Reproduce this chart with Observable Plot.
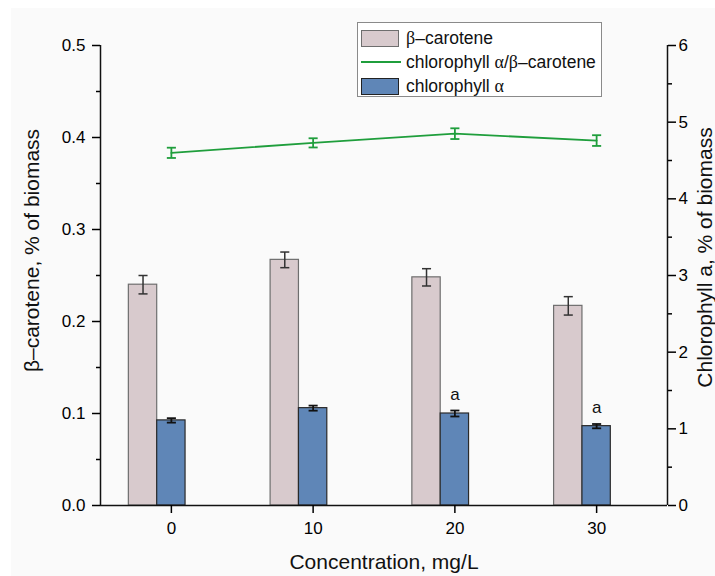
<!DOCTYPE html>
<html>
<head>
<meta charset="utf-8">
<script src="https://cdn.jsdelivr.net/npm/d3@7"></script>
<script src="https://cdn.jsdelivr.net/npm/@observablehq/plot@0.6"></script>
<style>
  html, body { margin: 0; padding: 0; background: #ffffff; }
  #wrap { position: absolute; left: 11px; top: 8px; width: 704px; height: 568px; background: #fafafa; }
  #legend {
    position: absolute; left: 346px; top: 14px; width: 243px; height: 73px;
    background: #ffffff; border: 1px solid #8a8a8a;
    font-family: "Liberation Sans", Arial, sans-serif; font-size: 17.5px; color: #111;
  }
  .row { position: absolute; left: 3px; height: 20px; display: flex; align-items: center; white-space: nowrap; }
  .sw { width: 38px; height: 17px; margin-right: 7px; box-sizing: border-box; }
  .ln { width: 40px; height: 2px; margin-right: 5px; background: #1f9e3c; }
  .gr { font-family: "Liberation Serif", "DejaVu Serif", serif; font-size: 18px; }
</style>
</head>
<body>
<div id="wrap">
  <div id="chart"></div>
  <div id="legend">
    <div class="row" style="top:5px"><div class="sw" style="background:#d8cacd;border:1.5px solid #6e6e6e"></div><span class="gr">β</span>–carotene</div>
    <div class="row" style="top:29px"><div class="ln"></div>chlorophyll&nbsp;<span class="gr">α</span>/<span class="gr">β</span>–carotene</div>
    <div class="row" style="top:53px"><div class="sw" style="background:#5f86b7;border:1.5px solid #222"></div>chlorophyll&nbsp;<span class="gr">α</span></div>
  </div>
</div>
<script>
// Concentration of the additive, mg/L
const concentrations = [0, 10, 20, 30];
// β-carotene, % of biomass (left axis), with error
const betaCarotene = [0.240, 0.267, 0.248, 0.217];
const betaCaroteneErr = [0.010, 0.0085, 0.0094, 0.010];
// Chlorophyll α, % of biomass (right axis), with error
const chlorophyll = [1.11, 1.27, 1.20, 1.035];
const chlorophyllErr = [0.029, 0.033, 0.039, 0.028];
// Chlorophyll α / β-carotene ratio (right axis), with error
const ratio = [4.60, 4.73, 4.85, 4.76];
const ratioErr = [0.067, 0.060, 0.070, 0.070];
// Significance letters above the chlorophyll bars
const significance = ["", "", "a", "a"];
// Axis ticks
const xTicks = [0, 10, 20, 30];
const leftTicks = [0, 0.1, 0.2, 0.3, 0.4, 0.5];
const leftMinor = [0.05, 0.15, 0.25, 0.35, 0.45];
const rightTicks = [0, 1, 2, 3, 4, 5, 6];
const rightMinor = [0.5, 1.5, 2.5, 3.5, 4.5, 5.5];

// right-axis values are drawn on the left scale: 6 on the right = 0.5 on the left
const k = 0.5 / 6;

const rows = concentrations.map((c, i) => ({
  c,
  beta: betaCarotene[i], betaErr: betaCaroteneErr[i],
  chl: chlorophyll[i] * k, chlErr: chlorophyllErr[i] * k,
  ratio: ratio[i] * k, ratioErr: ratioErr[i] * k,
  sig: significance[i]
}));

const capHalf = 0.32;
const font = "Liberation Sans, Arial, sans-serif";

const chart = Plot.plot({
  width: 704,
  height: 568,
  marginLeft: 89,
  marginRight: 48,
  marginTop: 37,
  marginBottom: 71,
  style: { fontFamily: font, fontSize: "17px", background: "transparent", color: "#000" },
  x: { domain: [-5, 35] },
  y: { domain: [0, 0.5] },
  marks: [
    // β-carotene bars, left of each concentration
    Plot.rectY(rows, { x1: d => d.c - 3, x2: d => d.c - 1, y1: 0, y2: "beta", fill: "#d8cacd", stroke: "#6e6e6e", strokeWidth: 1.2 }),
    // chlorophyll α bars, centred on each concentration
    Plot.rectY(rows, { x1: d => d.c - 1, x2: d => d.c + 1, y1: 0, y2: "chl", fill: "#5f86b7", stroke: "#2a2a2a", strokeWidth: 1.2 }),
    // β-carotene error bars
    Plot.link(rows, { x1: d => d.c - 2, x2: d => d.c - 2, y1: d => d.beta - d.betaErr, y2: d => d.beta + d.betaErr, stroke: "#333", strokeWidth: 1.5 }),
    Plot.link(rows, { x1: d => d.c - 2 - capHalf, x2: d => d.c - 2 + capHalf, y1: d => d.beta + d.betaErr, y2: d => d.beta + d.betaErr, stroke: "#333", strokeWidth: 1.5 }),
    Plot.link(rows, { x1: d => d.c - 2 - capHalf, x2: d => d.c - 2 + capHalf, y1: d => d.beta - d.betaErr, y2: d => d.beta - d.betaErr, stroke: "#333", strokeWidth: 1.5 }),
    // chlorophyll α error bars
    Plot.link(rows, { x1: "c", x2: "c", y1: d => d.chl - d.chlErr, y2: d => d.chl + d.chlErr, stroke: "#111", strokeWidth: 1.8 }),
    Plot.link(rows, { x1: d => d.c - capHalf, x2: d => d.c + capHalf, y1: d => d.chl + d.chlErr, y2: d => d.chl + d.chlErr, stroke: "#111", strokeWidth: 1.8 }),
    Plot.link(rows, { x1: d => d.c - capHalf, x2: d => d.c + capHalf, y1: d => d.chl - d.chlErr, y2: d => d.chl - d.chlErr, stroke: "#111", strokeWidth: 1.8 }),
    // significance letters
    Plot.text(rows.filter(d => d.sig), { x: "c", y: d => d.chl + d.chlErr, text: "sig", dy: -16, fontSize: 17, fill: "#111" }),
    // chlorophyll α / β-carotene ratio line with error bars
    Plot.line(rows, { x: "c", y: "ratio", stroke: "#1f9e3c", strokeWidth: 1.8 }),
    Plot.link(rows, { x1: "c", x2: "c", y1: d => d.ratio - d.ratioErr, y2: d => d.ratio + d.ratioErr, stroke: "#1f9e3c", strokeWidth: 1.8 }),
    Plot.link(rows, { x1: d => d.c - capHalf, x2: d => d.c + capHalf, y1: d => d.ratio + d.ratioErr, y2: d => d.ratio + d.ratioErr, stroke: "#1f9e3c", strokeWidth: 1.8 }),
    Plot.link(rows, { x1: d => d.c - capHalf, x2: d => d.c + capHalf, y1: d => d.ratio - d.ratioErr, y2: d => d.ratio - d.ratioErr, stroke: "#1f9e3c", strokeWidth: 1.8 }),
    // axis lines
    Plot.ruleY([0], { stroke: "#111", strokeWidth: 1.5 }),
    Plot.ruleX([-5, 35], { stroke: "#111", strokeWidth: 1.5 }),
    // bottom axis
    Plot.axisX({ ticks: xTicks, tickSize: 8, tickPadding: 8, tickFormat: d => d, label: null, strokeWidth: 1.5 }),
    // left axis (β-carotene)
    Plot.axisY({ anchor: "left", ticks: leftTicks, tickSize: 8, tickPadding: 7, tickFormat: d => d.toFixed(1), label: null, strokeWidth: 1.5 }),
    Plot.axisY(leftMinor, { anchor: "left", tickSize: 4, tickFormat: () => "", label: null, strokeWidth: 1.5 }),
    // right axis (chlorophyll α)
    Plot.axisY(rightTicks.map(d => d * k), { anchor: "right", tickSize: 8, tickPadding: 3, tickFormat: d => Math.round(d / k), label: null, strokeWidth: 1.5 }),
    Plot.axisY(rightMinor.map(d => d * k), { anchor: "right", tickSize: 4, tickFormat: () => "", label: null, strokeWidth: 1.5 }),
    // axis titles
    Plot.text(["β–carotene, % of biomass"], { frameAnchor: "left", textAnchor: "middle", lineAnchor: "middle", text: d => d, rotate: -90, dx: -68, dy: -25, fontSize: 21, fill: "#111" }),
    Plot.text(["Chlorophyll a, % of biomass"], { frameAnchor: "right", textAnchor: "middle", lineAnchor: "middle", text: d => d, rotate: -90, dx: 38, dy: -18, fontSize: 21, fill: "#111" }),
    Plot.text(["Concentration, mg/L"], { frameAnchor: "bottom", textAnchor: "middle", lineAnchor: "middle", text: d => d, dy: 57, fontSize: 21, fill: "#111" })
  ]
});

document.getElementById("chart").appendChild(chart);
</script>
</body>
</html>
